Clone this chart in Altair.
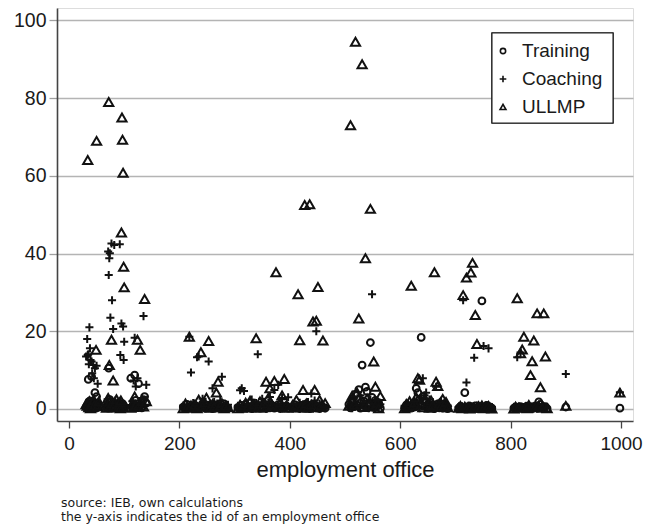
import altair as alt
import pandas as pd

# employment office ids (x) and share values per programme (y)
office = [
    31, 33, 34, 35, 36, 37, 38, 39, 41, 42, 44, 45, 47, 49, 50, 52, 54,
    68, 70, 71, 72, 73, 74, 75, 77, 78, 80, 82, 84, 86, 88, 90, 92, 93, 94, 95, 96, 97, 98, 99, 100,
    112, 115, 117, 119, 121, 124, 126, 129, 132, 135, 137, 140,
    207, 211, 214, 218, 221, 225, 228, 232, 235, 239, 242, 246, 249, 253, 256, 260, 263, 267, 270, 274, 277, 281, 284, 288,
    306, 310, 313, 317, 320, 324, 328, 331, 335, 339, 342, 346, 350, 353, 357, 361, 364, 368, 372, 375, 379, 383, 386, 390, 394, 397,
    405, 409, 412, 415, 418, 421, 424, 427, 430, 433, 436, 439, 442, 445, 448, 451, 454, 457, 460, 464,
    507, 510, 513, 516, 519, 522, 525, 528, 531, 534, 537, 540, 543, 546, 549, 552, 555, 558, 561, 564,
    608, 611, 614, 617, 620, 623, 626, 629, 632, 635, 638, 641, 644, 647, 650, 653, 656, 659, 662, 665, 668, 671, 674, 677, 680, 683, 686,
    706, 709, 712, 714, 717, 720, 723, 726, 728, 731, 734, 736, 739, 742, 745, 748, 751, 754, 757, 760, 763, 766,
    806, 809, 812, 815, 818, 821, 824, 827, 830, 833, 836, 839, 842, 845, 848, 851, 854, 857, 860, 863, 866,
    900, 998,
]

training = [
    0.5, 1.0, 0.3, 7.6, 1.8, 0.6, 2.1, 1.2, 8.3, 0.4, 1.5, 0.9, 4.2, 0.2, 3.2, 1.3, 0.7,
    0.5, 1.8, 0.2, 10.5, 0.8, 2.4, 0.3, 1.2, 0.6, 0.2, 1.5, 0.4, 0.9, 0.1, 0.7, 0.3, 1.1, 0.5, 0.2, 0.8, 1.4, 0.3, 0.9, 0.4,
    7.9, 0.6, 1.3, 8.7, 2.2, 0.4, 6.5, 1.0, 0.3, 2.4, 3.2, 1.5,
    0.5, 0.1, 1.2, 0.3, 0.8, 0.2, 1.0, 0.4, 0.1, 0.6, 1.4, 0.2, 0.9, 0.3, 0.7, 0.1, 1.1, 0.4, 0.2, 0.8, 0.3, 1.3, 0.5, 0.2,
    0.4, 0.1, 0.9, 0.3, 1.2, 0.2, 0.6, 0.1, 0.8, 0.3, 1.0, 0.2, 0.5, 1.4, 0.1, 0.7, 0.3, 0.9, 0.2, 0.5, 1.1, 0.1, 0.6, 0.3, 0.8, 0.2,
    0.3, 1.1, 0.2, 0.6, 0.1, 0.9, 0.4, 0.2, 1.3, 0.5, 0.1, 0.7, 0.3, 1.0, 0.2, 0.6, 0.1, 0.8, 0.4, 0.2,
    1.2, 0.3, 2.5, 0.6, 3.8, 1.0, 5.0, 0.2, 11.3, 2.0, 5.6, 4.5, 1.3, 17.1, 3.0, 0.4, 2.2, 0.8, 1.6, 0.2,
    0.3, 1.0, 0.1, 0.6, 0.2, 1.4, 0.5, 5.3, 4.2, 2.4, 18.4, 3.2, 0.8, 1.9, 0.2, 1.1, 0.4, 0.9, 0.1, 0.6, 1.3, 0.3, 0.8, 0.2, 1.0, 0.4, 0.1,
    0.2, 0.6, 0.1, 0.3, 4.2, 0.5, 0.1, 0.7, 0.2, 0.4, 0.1, 0.8, 0.3, 0.1, 0.6, 27.8, 0.2, 0.5, 0.9, 0.1, 0.4, 0.2,
    0.2, 0.5, 0.1, 0.3, 0.6, 0.2, 0.4, 0.1, 0.7, 0.2, 0.5, 0.1, 0.3, 0.8, 0.2, 1.8, 1.2, 0.4, 0.2, 0.6, 0.1,
    0.5, 0.2,
]

coaching = [
    13.5, 18.0, 13.9, 14.1, 11.5, 21.0, 15.6, 12.6, 12.2, 9.2, 11.3, 7.9, 10.5, 1.0, 11.1, 6.5, 1.5,
    1.2, 2.5, 40.5, 34.5, 38.8, 40.1, 23.5, 42.6, 28.0, 20.6, 42.2, 2.2, 1.0, 0.5, 1.8, 42.4, 13.9, 1.3, 22.0, 0.9, 0.6, 21.2, 12.6, 17.3,
    1.0, 2.0, 7.3, 18.3, 5.8, 7.9, 1.5, 0.4, 2.8, 23.9, 1.1, 6.2,
    0.9, 0.3, 0.6, 18.6, 9.4, 1.5, 0.4, 13.3, 13.5, 1.2, 2.6, 0.8, 0.2, 12.2, 0.5, 5.3, 1.8, 0.3, 1.0, 2.2, 8.3, 0.6, 0.1, 1.1,
    0.8, 4.8, 5.3, 4.6, 0.5, 1.3, 0.2, 2.4, 0.7, 1.5, 14.1, 0.4, 2.6, 0.9, 0.2, 1.7, 3.1, 0.6, 4.9, 0.3, 6.2, 1.2, 2.8, 0.5, 1.0, 3.0,
    0.6, 0.2, 1.0, 0.4, 1.6, 0.3, 1.2, 0.7, 0.1, 1.8, 0.5, 4.0, 0.9, 2.2, 20.0, 0.3, 1.4, 0.6, 1.1, 0.2,
    0.4, 1.5, 0.2, 2.8, 0.6, 1.2, 0.3, 3.5, 0.9, 2.1, 0.5, 1.6, 0.2, 2.4, 29.5, 1.0, 0.3, 1.9, 0.6, 1.2,
    0.8, 0.2, 1.4, 0.4, 1.1, 0.3, 2.0, 0.6, 1.5, 0.2, 2.9, 7.9, 3.5, 4.2, 1.0, 2.4, 0.5, 1.8, 0.3, 5.7, 1.2, 0.7, 2.1, 0.4, 1.6, 0.2, 0.9,
    0.5, 0.1, 0.7, 28.0, 0.4, 6.8, 0.2, 0.8, 0.3, 0.6, 13.2, 0.2, 0.9, 0.4, 0.1, 0.5, 16.2, 0.3, 0.7, 15.6, 0.2, 0.5,
    0.4, 0.1, 13.3, 0.6, 14.5, 0.3, 0.2, 0.7, 0.3, 0.5, 0.1, 0.6, 0.2, 0.4, 0.7, 0.3, 0.5, 0.1, 0.6, 0.3, 0.4,
    9.0, 4.3,
]

ullmp = [
    1.2, 0.8, 64.1, 1.5, 0.4, 2.0, 0.9, 0.2, 1.0, 1.7, 0.6, 2.3, 1.1, 15.2, 69.0, 0.7, 1.9,
    0.3, 1.0, 2.8, 79.0, 11.3, 0.6, 2.0, 17.8, 1.4, 7.3, 0.9, 0.5, 2.5, 1.2, 0.4, 1.7, 0.2, 2.2, 45.4, 75.0, 69.3, 60.8, 36.6, 31.3,
    0.3, 1.2, 0.5, 3.2, 1.0, 17.8, 0.8, 15.2, 1.9, 0.6, 28.3, 2.0,
    0.2, 1.4, 0.4, 18.6, 0.9, 0.3, 1.1, 0.2, 2.4, 14.6, 0.7, 1.6, 2.9, 17.5, 0.3, 1.3, 0.5, 4.2, 7.0, 0.8, 1.5, 0.2, 0.9, 0.4,
    0.2, 1.1, 0.3, 0.8, 1.6, 0.4, 2.1, 0.7, 1.2, 18.2, 0.3, 1.9, 0.5, 1.3, 7.0, 2.8, 5.3, 1.0, 7.2, 35.2, 0.6, 1.7, 3.5, 7.7, 0.9, 0.3,
    1.0, 0.4, 2.3, 29.5, 17.7, 0.6, 4.9, 52.5, 1.4, 0.3, 52.7, 1.1, 22.5, 4.9, 22.7, 31.4, 2.3, 0.8, 17.6, 1.5,
    0.8, 73.0, 3.4, 1.1, 94.5, 4.2, 23.3, 2.0, 88.7, 0.5, 38.8, 2.7, 1.0, 51.5, 0.6, 12.2, 5.7, 1.5, 0.2, 3.3,
    0.2, 1.3, 0.5, 2.0, 31.7, 0.8, 1.6, 3.0, 7.9, 7.5, 1.2, 0.4, 2.5, 0.9, 1.7, 0.3, 2.2, 1.0, 35.2, 7.0, 5.9, 1.4, 0.6, 2.6, 0.9, 1.8, 0.4,
    0.3, 0.8, 0.2, 29.3, 0.6, 33.8, 0.5, 0.1, 35.1, 37.6, 0.4, 24.2, 16.7, 0.7, 0.3, 0.9, 0.2, 0.6, 0.4, 0.8, 0.3, 0.1,
    0.1, 0.6, 28.5, 0.3, 14.3, 15.3, 18.6, 0.4, 0.2, 1.0, 8.7, 12.3, 17.6, 0.5, 24.6, 0.8, 5.6, 0.3, 24.6, 13.5, 0.2,
    0.8, 4.2,
]

series_names = ["Training", "Coaching", "ULLMP"]
series_shapes = ["circle", "M-1,0L1,0M0,-1L0,1", "triangle-up"]
series_sizes = [46, 84, 58]
legend_sizes = [28, 44, 34]

x_ticks = [0, 200, 400, 600, 800, 1000]
y_ticks = [0, 20, 40, 60, 80, 100]

footnote = ["source: IEB, own calculations",
            "the y-axis indicates the id of an employment office"]

rows = []
for k, (name, vals) in enumerate(zip(series_names, [training, coaching, ullmp])):
    for o, v in zip(office, vals):
        rows.append({"office": o, "share": v, "series": name, "msize": name, "k": k})
df = pd.DataFrame(rows)
legend_df = pd.DataFrame({"series": series_names})

FONT = "Liberation Sans"
INK = "#1a1a1a"

points = alt.Chart(df).mark_point(
    filled=False, strokeWidth=2.0, color="#111111", opacity=1
).encode(
    x=alt.X("office:Q",
            scale=alt.Scale(domain=[-21.7, 1021.7], nice=False, zero=False),
            axis=alt.Axis(values=x_ticks, format="d", grid=False, title="employment office",
                          tickSize=7, tickColor="#444444", tickWidth=1.3,
                          domainColor="#444444", domainWidth=1.6,
                          labelFontSize=19, labelPadding=6, labelColor=INK,
                          labelFont=FONT, titleFont=FONT, titleFontSize=22,
                          titleFontWeight="normal", titleColor=INK, titlePadding=6)),
    y=alt.Y("share:Q",
            scale=alt.Scale(domain=[-3.1, 103.2], nice=False, zero=False),
            axis=alt.Axis(values=y_ticks, grid=True, gridColor="#b4b4b4", gridWidth=1.4,
                          title=None, tickSize=8, tickColor="#a0a0a0", tickWidth=1.3,
                          domainColor="#444444", domainWidth=1.6,
                          labelFontSize=19.5, labelPadding=3, labelColor=INK,
                          labelFont=FONT)),
    shape=alt.Shape("series:N",
                    scale=alt.Scale(domain=series_names, range=series_shapes),
                    legend=None),
    size=alt.Size("msize:N",
                  scale=alt.Scale(domain=series_names, range=series_sizes),
                  legend=None),
    order=alt.Order("k:Q"),
)

# legend box (pixel positions inside the plot area)
legend_box = alt.Chart(legend_df).mark_rect(
    fill="white", stroke="#222222", strokeWidth=1.1
).encode(
    x=alt.value(435), x2=alt.value(556), y=alt.value(25), y2=alt.value(115)
)

layers = [points, legend_box]
row_y = [43, 71, 99]
for name, shp, sz, ry in zip(series_names, series_shapes, legend_sizes, row_y):
    sym = alt.Chart(legend_df).transform_filter(
        alt.datum.series == name
    ).mark_point(
        filled=False, strokeWidth=1.6, color="#111111", opacity=1, shape=shp, size=sz
    ).encode(x=alt.value(446), y=alt.value(ry))
    lab = alt.Chart(legend_df).transform_filter(
        alt.datum.series == name
    ).mark_text(
        align="left", baseline="middle", font=FONT, fontSize=19, color=INK
    ).encode(x=alt.value(465), y=alt.value(ry), text="series:N")
    layers += [sym, lab]

chart = alt.layer(*layers).properties(
    width=576,
    height=413,
    autosize=alt.AutoSizeParams(type="none"),
    padding={"left": 49, "top": 0, "right": 14, "bottom": 106},
    title=alt.TitleParams(text=footnote, orient="bottom", anchor="start", frame="group",
                          fontSize=12.5, font="DejaVu Sans", fontWeight="normal", color=INK,
                          lineHeight=14, offset=17, dx=4),
).configure_view(
    strokeWidth=0
).configure(background="white")

chart.save("out.html", embed_options={"renderer": "svg", "actions": False})
